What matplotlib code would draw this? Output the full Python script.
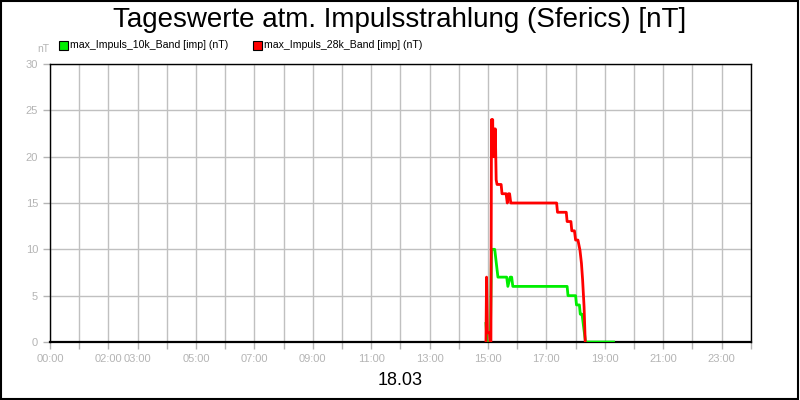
import matplotlib as mpl
mpl.use('Agg')
import matplotlib.pyplot as plt
from matplotlib.patches import Rectangle

plt.rcParams['font.family'] = ['Liberation Sans', 'DejaVu Sans']

# Zeit in Stunden, Werte in nT
t_10k = [14.93, 14.97, 15.08, 15.12, 15.16, 15.23, 15.34, 15.64, 15.68, 15.76, 15.81, 15.85,
         17.71, 17.74, 18.0, 18.03, 18.13, 18.16, 18.22, 18.34, 19.3]
v_10k = [2, 0, 0, 10, 10, 10, 7, 7, 6, 7, 7, 6,
         6, 5, 5, 4, 4, 3, 3, 0, 0]

t_28k = [14.93, 14.95, 14.98, 15.05, 15.07, 15.10, 15.12, 15.14, 15.16, 15.18, 15.20, 15.22,
         15.25, 15.28, 15.31, 15.35, 15.45, 15.48, 15.62, 15.66, 15.70, 15.74, 15.78, 15.82,
         17.35, 17.38, 17.68, 17.71, 17.84, 17.87, 17.96, 18.0, 18.08, 18.15, 18.2, 18.24,
         18.29, 18.33]
v_28k = [0, 7, 1, 1, 0, 0, 24, 20, 24, 20, 23, 20,
         23, 17.5, 17, 17, 17, 16, 16, 15, 16, 16, 15, 15,
         15, 14, 14, 13, 13, 12, 12, 11, 11, 9.9, 8.5, 6.7,
         3.8, 0]

tick_pos = [0, 2, 3, 5, 7, 9, 11, 13, 15, 17, 19, 21, 23]
tick_lab = ['%02d:00' % h for h in tick_pos]
datum = '18.03'

grau = '#b4b4b4'
fig = plt.figure(figsize=(8, 4), dpi=100)
ax = fig.add_axes([0.0625, 0.145, 0.876, 0.695])

ax.plot(t_10k, v_10k, color='#00ee00', lw=2, zorder=3)
ax.plot(t_28k, v_28k, color='#ff0000', lw=2, zorder=3)

ax.set_xlim(0, 24)
ax.set_ylim(0, 30)
ax.set_xticks(range(0, 25), minor=True)
ax.set_xticks(tick_pos)
ax.set_xticklabels(tick_lab)
ax.set_yticks(range(0, 31, 5))
ax.grid(True, which='both', axis='x', color='#c0c0c0', lw=1)
ax.grid(True, axis='y', color='#c0c0c0', lw=1)
ax.tick_params(axis='both', which='both', colors=grau, labelcolor=grau, labelsize=8, length=5, width=1)
for s in ax.spines.values():
    s.set_color('black')
    s.set_linewidth(1)
ax.spines['bottom'].set_linewidth(1.6)

fig.text(0.5, 0.95, 'Tageswerte atm. Impulsstrahlung (Sferics) [nT]', ha='center', va='center', fontsize=20)
fig.text(0.046, 0.878, 'nT', ha='left', va='center', fontsize=7.5, color=grau)

fig.patches.append(Rectangle((0.074, 0.888 - 0.012), 0.011, 0.022, transform=fig.transFigure,
                             facecolor='#00ee00', edgecolor='black', lw=0.8))
fig.text(0.088, 0.888, 'max_Impuls_10k_Band [imp] (nT)', ha='left', va='center', fontsize=7.6)
fig.patches.append(Rectangle((0.316, 0.888 - 0.012), 0.011, 0.022, transform=fig.transFigure,
                             facecolor='#ff0000', edgecolor='black', lw=0.8))
fig.text(0.33, 0.888, 'max_Impuls_28k_Band [imp] (nT)', ha='left', va='center', fontsize=7.6)

fig.text(0.5, 0.048, datum, ha='center', va='center', fontsize=13)

fig.patches.append(Rectangle((0.001, 0.002), 0.997, 0.996, transform=fig.transFigure,
                             facecolor='none', edgecolor='black', lw=1.5))

fig.savefig('out.png', dpi=100)
